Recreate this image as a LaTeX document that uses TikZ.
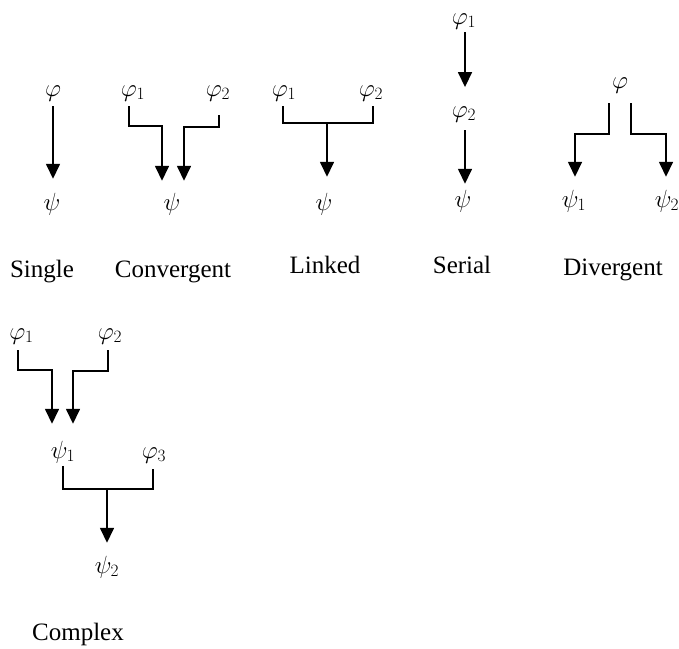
\documentclass[tikz,border=0pt]{standalone}
\usepackage{fontspec}
\usepackage{mathtools}
\setmainfont{Liberation Serif}
\usetikzlibrary{arrows.meta,calc}

% subscript that takes no width, so a node is centred on its main letter
\newcommand{\sub}[1]{_{\mathrlap{#1}}}

\begin{document}
\begin{tikzpicture}[x=1pt,y=-1pt,
  sym/.style={inner sep=0pt,anchor=base},
  caption/.style={inner sep=0pt,anchor=base},
  link/.style={line width=1.6pt},
  arr/.style={link,-{Triangle[length=15pt,width=14pt]}},
  font=\fontsize{25}{30}\selectfont]
\useasboundingbox (0,0) rectangle (679,648);

% ---- Single ----
\node[sym] (sphi) at (53,96) {$\varphi$};
\node[sym] (spsi) at (52,210) {$\psi$};
\draw[arr] ($(sphi)+(0,13)$) -- ($(spsi)+(1,-25)$);
\node[caption] (lsingle) at (42,277) {Single};

% ---- Convergent ----
\node[sym] (cphi1) at (129,96) {$\varphi\sub{1}$};
\node[sym] (cphi2) at (214,96) {$\varphi\sub{2}$};
\node[sym] (cpsi) at (172,210) {$\psi$};
\draw[arr] ($(cphi1)+(0,13)$) |- ($(cpsi)+(-10,-78)$) -- ($(cpsi)+(-10,-23)$);
\draw[arr] ($(cphi2)+(5,22)$) |- ($(cpsi)+(12,-77)$) -- ($(cpsi)+(12,-23)$);
\node[caption] (lconv) at (173,277) {Convergent};

% ---- Linked ----
\node[sym] (lphi1) at (280,96) {$\varphi\sub{1}$};
\node[sym] (lphi2) at (367,96) {$\varphi\sub{2}$};
\node[sym] (lpsi) at (324,210) {$\psi$};
\draw[link] ($(lphi1)+(3,13)$) |- ($(lpsi)+(3,-81)$) -| ($(lphi2)+(6,13)$);
\draw[arr] ($(lpsi)+(3,-81)$) -- ($(lpsi)+(3,-27)$);
\node[caption] (llinked) at (325,273) {Linked};

% ---- Serial ----
\node[sym] (rphi1) at (460,24) {$\varphi\sub{1}$};
\node[sym] (rphi2) at (460,117) {$\varphi\sub{2}$};
\node[sym] (rpsi) at (463,207) {$\psi$};
\draw[arr] ($(rphi1)+(5,11)$) -- ($(rphi2)+(5,-27)$);
\draw[arr] ($(rphi2)+(5,16)$) -- ($(rpsi)+(2,-17)$);
\node[caption] (lserial) at (462,273) {Serial};

% ---- Divergent ----
\node[sym] (dphi) at (620,88) {$\varphi$};
\node[sym] (dpsi1) at (570,207) {$\psi\sub{1}$};
\node[sym] (dpsi2) at (663,207) {$\psi\sub{2}$};
\draw[arr] ($(dphi)+(-11,18)$) |- ($(dpsi1)+(5,-67)$) -- ($(dpsi1)+(5,-24)$);
\draw[arr] ($(dphi)+(11,18)$) |- ($(dpsi2)+(3,-67)$) -- ($(dpsi2)+(3,-24)$);
\node[caption] (ldiv) at (613,275) {Divergent};

% ---- Complex ----
\node[sym] (xphi1) at (17.5,339) {$\varphi\sub{1}$};
\node[sym] (xphi2) at (106,339) {$\varphi\sub{2}$};
\node[sym] (xpsi1) at (59,458) {$\psi\sub{1}$};
\node[sym] (xphi3) at (150,458) {$\varphi\sub{3}$};
\node[sym] (xpsi2) at (103,573) {$\psi\sub{2}$};
\draw[arr] ($(xphi1)+(0.5,14)$) |- ($(xpsi1)+(-7,-82)$) -- ($(xpsi1)+(-7,-28)$);
\draw[arr] ($(xphi2)+(2,14)$) |- ($(xpsi1)+(14,-81)$) -- ($(xpsi1)+(14,-28)$);
\draw[link] ($(xpsi1)+(4,14)$) |- ($(xpsi2)+(4,-78)$) -| ($(xphi3)+(3,14)$);
\draw[arr] ($(xpsi2)+(4,-78)$) -- ($(xpsi2)+(4,-24)$);
\node[caption] (lcomplex) at (78,640) {Complex};
\end{tikzpicture}
\end{document}
